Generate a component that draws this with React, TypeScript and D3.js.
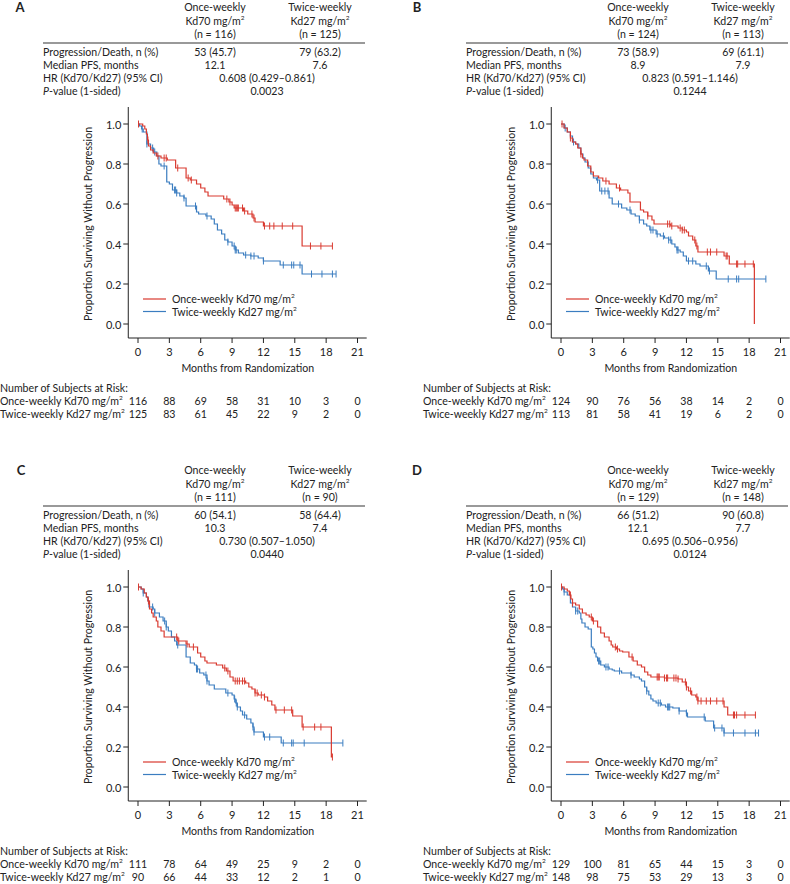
import React from 'react';
import * as d3 from 'd3';

type Step = [number, number];

const TIME_TICKS = [0, 3, 6, 9, 12, 15, 18, 21];
const SURV_TICKS = [0, 0.2, 0.4, 0.6, 0.8, 1.0];
const ARM_LABELS = ['Once-weekly Kd70 mg/m', 'Twice-weekly Kd27 mg/m'];
const ROW_LABELS = ['Progression/Death, n (%)', 'Median PFS, months', 'HR (Kd70/Kd27) (95% CI)', '-value (1-sided)'];

// ---------- Panel A ----------
const A_KD70_STEPS: Step[] = [[0,1],[0.45,0.99],[0.65,0.975],[0.8,0.95],[0.9,0.92],[1.0,0.89],[1.2,0.87],[1.45,0.855],[1.75,0.84],[2.2,0.83],[2.8,0.82],[3.6,0.78],[4.6,0.73],[5.0,0.72],[5.6,0.70],[6.0,0.68],[6.4,0.66],[6.7,0.64],[8.2,0.625],[8.7,0.61],[9.0,0.595],[9.2,0.58],[10.1,0.565],[10.5,0.55],[11.0,0.53],[11.2,0.51],[12.0,0.49],[15.7,0.39]];
const A_KD70_END = 18.6;
const A_KD70_CENSOR = [0.05,0.95,1.9,2.5,2.7,3.8,4.8,5.1,8.5,8.8,9.3,9.4,9.5,9.6,10.0,10.2,10.9,11.1,12.1,12.6,13.0,13.8,14.8,16.5,17.5,18.6];
const A_KD27_STEPS: Step[] = [[0,1],[0.15,0.99],[0.35,0.975],[0.5,0.96],[0.85,0.90],[1.2,0.88],[1.5,0.86],[1.8,0.84],[2.0,0.80],[2.2,0.79],[2.75,0.71],[3.0,0.70],[3.3,0.67],[3.7,0.655],[4.0,0.64],[4.4,0.63],[4.6,0.59],[5.6,0.56],[5.8,0.55],[6.5,0.54],[7.0,0.525],[7.3,0.50],[7.6,0.47],[8.0,0.45],[8.3,0.42],[8.6,0.41],[9.0,0.39],[9.3,0.37],[9.6,0.355],[10.1,0.345],[10.8,0.34],[11.5,0.33],[12.0,0.315],[13.6,0.295],[15.7,0.25]];
const A_KD27_END = 18.95;
const A_KD27_CENSOR = [0.4,0.85,1.4,1.6,2.5,3.5,3.6,3.7,4.4,5.5,6.6,8.6,9.2,9.3,9.4,10.3,10.8,11.1,12.0,13.9,14.7,14.9,15.5,16.6,17.6,18.6,18.95];
const A_N = ['116', '125'];
const A_PROG = ['53 (45.7)', '79 (63.2)'];
const A_MEDIAN = ['12.1', '7.6'];
const A_HR = '0.608 (0.429–0.861)';
const A_P = '0.0023';
const A_RISK_KD70 = [116, 88, 69, 58, 31, 10, 3, 0];
const A_RISK_KD27 = [125, 83, 61, 45, 22, 9, 2, 0];

// ---------- Panel B ----------
const B_KD70_STEPS: Step[] = [[0,1],[0.3,0.98],[0.6,0.96],[0.9,0.93],[1.1,0.91],[1.4,0.90],[1.6,0.88],[1.9,0.85],[2.05,0.83],[2.2,0.82],[2.55,0.79],[2.85,0.76],[3.1,0.74],[3.6,0.73],[4.0,0.715],[4.6,0.70],[5.3,0.68],[5.7,0.67],[6.4,0.655],[6.6,0.61],[7.6,0.57],[7.9,0.56],[8.3,0.54],[8.7,0.52],[8.9,0.50],[10.5,0.49],[11.2,0.48],[11.6,0.47],[12.0,0.46],[12.2,0.44],[12.6,0.42],[12.9,0.39],[13.1,0.36],[15.6,0.34],[16.1,0.30],[18.5,0.0]];
const B_KD70_END = 18.5;
const B_KD70_CENSOR = [0.1,0.9,1.9,4.3,5.6,8.3,10.2,10.4,10.6,11.4,11.6,11.8,12.8,13.0,14.0,14.3,14.9,15.8,15.9,16.8,16.9,17.6,18.4];
const B_KD27_STEPS: Step[] = [[0,1],[0.3,0.98],[0.6,0.96],[0.9,0.94],[1.1,0.91],[1.4,0.90],[1.7,0.88],[1.9,0.85],[2.1,0.83],[2.3,0.81],[2.6,0.78],[2.85,0.75],[3.1,0.73],[3.4,0.72],[3.7,0.665],[4.6,0.63],[4.9,0.60],[5.8,0.58],[6.3,0.57],[6.7,0.55],[7.1,0.54],[7.5,0.52],[7.9,0.50],[8.2,0.49],[8.5,0.47],[9.1,0.45],[9.5,0.44],[9.9,0.43],[10.3,0.42],[10.6,0.40],[10.9,0.385],[11.1,0.37],[11.4,0.36],[11.7,0.34],[12.0,0.315],[12.9,0.30],[13.3,0.29],[14.1,0.265],[14.85,0.225]];
const B_KD27_END = 19.6;
const B_KD27_CENSOR = [0.4,1.2,3.5,3.9,4.2,4.5,5.5,6.6,7.5,8.6,8.8,9.2,9.8,10.3,10.5,11.1,11.2,12.2,12.6,13.9,14.2,16.0,16.8,17.0,19.6];
const B_N = ['124', '113'];
const B_PROG = ['73 (58.9)', '69 (61.1)'];
const B_MEDIAN = ['8.9', '7.9'];
const B_HR = '0.823 (0.591–1.146)';
const B_P = '0.1244';
const B_RISK_KD70 = [124, 90, 76, 56, 38, 14, 2, 0];
const B_RISK_KD27 = [113, 81, 58, 41, 19, 6, 2, 0];

// ---------- Panel C ----------
const C_KD70_STEPS: Step[] = [[0,1],[0.3,0.99],[0.6,0.97],[0.8,0.95],[0.95,0.93],[1.1,0.89],[1.3,0.87],[1.45,0.85],[1.75,0.83],[1.9,0.80],[2.2,0.78],[2.5,0.75],[3.8,0.73],[4.6,0.715],[4.9,0.70],[5.7,0.67],[6.0,0.65],[6.4,0.63],[6.6,0.62],[7.5,0.61],[8.1,0.595],[8.45,0.58],[8.8,0.55],[9.1,0.53],[10.3,0.52],[10.6,0.50],[10.9,0.49],[11.2,0.47],[11.5,0.46],[12.1,0.45],[12.4,0.43],[12.8,0.41],[13.1,0.385],[14.8,0.355],[15.7,0.30],[18.5,0.15]];
const C_KD70_END = 18.6;
const C_KD70_CENSOR = [0.05,1.0,3.7,3.9,4.7,5.3,8.3,8.6,9.3,9.5,9.7,10.0,10.2,11.2,11.4,11.8,12.1,13.2,14.0,14.7,15.8,16.9,17.5,18.6];
const C_KD27_STEPS: Step[] = [[0,1],[0.3,0.99],[0.5,0.97],[0.8,0.95],[0.95,0.93],[1.05,0.90],[1.45,0.89],[1.6,0.87],[2.05,0.85],[2.4,0.83],[2.7,0.80],[2.9,0.78],[3.2,0.75],[3.5,0.73],[3.7,0.71],[4.6,0.65],[5.0,0.62],[5.4,0.61],[5.6,0.59],[5.9,0.57],[6.3,0.56],[6.6,0.53],[6.8,0.51],[7.3,0.49],[8.4,0.47],[9.0,0.46],[9.2,0.44],[9.35,0.42],[9.5,0.40],[9.8,0.38],[10.0,0.36],[10.4,0.34],[10.8,0.32],[11.0,0.30],[11.1,0.275],[12.0,0.25],[13.7,0.22]];
const C_KD27_END = 19.6;
const C_KD27_CENSOR = [0.5,1.4,1.6,2.55,2.7,3.8,5.6,5.7,6.5,6.6,8.6,9.25,9.4,9.5,10.2,11.0,11.1,12.1,12.6,13.9,14.7,14.85,15.9,19.6];
const C_N = ['111', '90'];
const C_PROG = ['60 (54.1)', '58 (64.4)'];
const C_MEDIAN = ['10.3', '7.4'];
const C_HR = '0.730 (0.507–1.050)';
const C_P = '0.0440';
const C_RISK_KD70 = [111, 78, 64, 49, 25, 9, 2, 0];
const C_RISK_KD27 = [90, 66, 44, 33, 12, 2, 1, 0];

// ---------- Panel D ----------
const D_KD70_STEPS: Step[] = [[0,1],[0.3,0.99],[0.6,0.98],[0.8,0.96],[0.95,0.94],[1.1,0.92],[1.4,0.91],[1.75,0.89],[2.05,0.87],[2.4,0.86],[2.7,0.85],[3.0,0.83],[3.5,0.80],[3.8,0.77],[4.15,0.75],[4.6,0.73],[4.8,0.71],[4.95,0.70],[5.3,0.69],[5.6,0.68],[5.9,0.675],[6.5,0.65],[6.9,0.63],[7.3,0.61],[7.7,0.60],[8.0,0.575],[8.3,0.56],[8.6,0.55],[9.9,0.545],[11.2,0.54],[11.6,0.525],[12.0,0.50],[12.2,0.48],[12.5,0.46],[12.9,0.45],[13.1,0.43],[15.6,0.40],[15.95,0.36]];
const D_KD70_END = 18.65;
const D_KD70_CENSOR = [0.05,0.9,1.1,2.9,3.1,5.2,5.4,6.8,9.2,9.3,9.4,9.9,10.1,10.2,10.8,11.0,11.2,11.9,12.0,12.4,13.0,13.1,13.4,13.9,14.3,14.9,15.5,16.5,16.6,16.8,17.6,18.6];
const D_KD27_STEPS: Step[] = [[0,1],[0.15,0.99],[0.3,0.975],[0.6,0.96],[0.9,0.92],[1.1,0.90],[1.4,0.88],[1.75,0.87],[1.9,0.84],[2.0,0.82],[2.3,0.80],[2.6,0.79],[2.9,0.70],[3.05,0.69],[3.2,0.67],[3.35,0.65],[3.5,0.63],[3.8,0.61],[4.15,0.60],[4.6,0.59],[4.9,0.585],[5.1,0.58],[5.8,0.57],[6.7,0.56],[7.0,0.55],[7.5,0.54],[7.7,0.53],[8.0,0.50],[8.2,0.48],[8.4,0.46],[8.6,0.44],[8.8,0.43],[9.1,0.42],[9.6,0.41],[10.0,0.40],[10.7,0.395],[11.3,0.38],[12.0,0.37],[12.1,0.35],[13.8,0.33],[14.6,0.295],[15.6,0.27]];
const D_KD27_END = 18.9;
const D_KD27_CENSOR = [0.3,1.4,1.6,3.6,3.7,4.3,4.5,5.6,6.7,8.2,9.3,9.5,10.2,10.3,10.4,11.3,12.0,13.7,14.7,15.4,15.6,16.5,17.6,18.6,18.9];
const D_N = ['129', '148'];
const D_PROG = ['66 (51.2)', '90 (60.8)'];
const D_MEDIAN = ['12.1', '7.7'];
const D_HR = '0.695 (0.506–0.956)';
const D_P = '0.0124';
const D_RISK_KD70 = [129, 100, 81, 65, 44, 15, 3, 0];
const D_RISK_KD27 = [148, 98, 75, 53, 29, 13, 3, 0];

const RED = '#d93a30';
const BLUE = '#3b7dc0';
const FONT = "Lato, 'Open Sans', sans-serif";
const FS = 10.6;
const TICK_FS = 11;

const PANELS = [
  { letter: 'A', ox: 0, oy: 0, lx: 20, n: A_N, prog: A_PROG, med: A_MEDIAN, hr: A_HR, p: A_P, r70: A_RISK_KD70, r27: A_RISK_KD27,
    s70: A_KD70_STEPS, e70: A_KD70_END, c70: A_KD70_CENSOR, s27: A_KD27_STEPS, e27: A_KD27_END, c27: A_KD27_CENSOR },
  { letter: 'B', ox: 423, oy: 0, lx: -6, n: B_N, prog: B_PROG, med: B_MEDIAN, hr: B_HR, p: B_P, r70: B_RISK_KD70, r27: B_RISK_KD27,
    s70: B_KD70_STEPS, e70: B_KD70_END, c70: B_KD70_CENSOR, s27: B_KD27_STEPS, e27: B_KD27_END, c27: B_KD27_CENSOR },
  { letter: 'C', ox: 0, oy: 463, lx: 21, n: C_N, prog: C_PROG, med: C_MEDIAN, hr: C_HR, p: C_P, r70: C_RISK_KD70, r27: C_RISK_KD27,
    s70: C_KD70_STEPS, e70: C_KD70_END, c70: C_KD70_CENSOR, s27: C_KD27_STEPS, e27: C_KD27_END, c27: C_KD27_CENSOR },
  { letter: 'D', ox: 423, oy: 463, lx: -6, n: D_N, prog: D_PROG, med: D_MEDIAN, hr: D_HR, p: D_P, r70: D_RISK_KD70, r27: D_RISK_KD27,
    s70: D_KD70_STEPS, e70: D_KD70_END, c70: D_KD70_CENSOR, s27: D_KD27_STEPS, e27: D_KD27_END, c27: D_KD27_CENSOR },
];

const x = d3.scaleLinear().domain([0, 21]).range([138, 357.5]);
const y = d3.scaleLinear().domain([0, 1]).range([324, 124]);

function survAt(steps: Step[], t: number) {
  let s = 1;
  for (const [tt, ss] of steps) if (tt <= t + 1e-9) s = ss;
  return s;
}

const line = d3.line<Step>().x((d) => x(d[0])).y((d) => y(d[1])).curve(d3.curveStepAfter);

function Sup({ base }: { base: string }) {
  return (
    <>
      {base}
      <tspan fontSize={6.5} dy={-4}>2</tspan>
    </>
  );
}

function Curve({ steps, end, censor, color }: { steps: Step[]; end: number; censor: number[]; color: string }) {
  const pts: Step[] = [...steps, [end, steps[steps.length - 1][1]]];
  return (
    <g>
      <path d={line(pts) || ''} fill="none" stroke={color} strokeWidth={1.2} />
      {censor.map((t, i) => {
        const cx = x(t);
        const cy = y(survAt(steps, t));
        return <line key={i} x1={cx} x2={cx} y1={cy - 3.5} y2={cy + 3.5} stroke={color} strokeWidth={1} />;
      })}
    </g>
  );
}

function Panel({ p }: { p: (typeof PANELS)[number] }) {
  const c1 = 215, c2 = 320, cm = 267;
  const axisLeft = x(-0.93);
  const axisRight = x(21.88);
  const axisBottom = y(-0.07);
  const axisTop = y(1.085);
  return (
    <g transform={`translate(${p.ox},${p.oy})`} fontFamily={FONT} fontSize={FS} fill="#222">
      <text x={p.lx} y={7} fontWeight="bold" fontSize={13} textAnchor="middle" dominantBaseline="central">{p.letter}</text>
      {/* header */}
      <text x={c1} y={7} textAnchor="middle" dominantBaseline="central">Once-weekly</text>
      <text x={c1} y={20.5} textAnchor="middle" dominantBaseline="central"><Sup base="Kd70 mg/m" /></text>
      <text x={c1} y={34} textAnchor="middle" dominantBaseline="central">(n = {p.n[0]})</text>
      <text x={c2} y={7} textAnchor="middle" dominantBaseline="central">Twice-weekly</text>
      <text x={c2} y={20.5} textAnchor="middle" dominantBaseline="central"><Sup base="Kd27 mg/m" /></text>
      <text x={c2} y={34} textAnchor="middle" dominantBaseline="central">(n = {p.n[1]})</text>
      <line x1={43} x2={365} y1={43} y2={43} stroke="#777" strokeWidth={1.4} />
      <text x={43} y={52} dominantBaseline="central">{ROW_LABELS[0]}</text>
      <text x={43} y={65} dominantBaseline="central">{ROW_LABELS[1]}</text>
      <text x={43} y={78} dominantBaseline="central">{ROW_LABELS[2]}</text>
      <text x={43} y={91} dominantBaseline="central"><tspan fontStyle="italic">P</tspan>{ROW_LABELS[3]}</text>
      <text x={c1} y={52} textAnchor="middle" dominantBaseline="central">{p.prog[0]}</text>
      <text x={c2} y={52} textAnchor="middle" dominantBaseline="central">{p.prog[1]}</text>
      <text x={c1} y={65} textAnchor="middle" dominantBaseline="central">{p.med[0]}</text>
      <text x={c2} y={65} textAnchor="middle" dominantBaseline="central">{p.med[1]}</text>
      <text x={cm} y={78} textAnchor="middle" dominantBaseline="central">{p.hr}</text>
      <text x={cm} y={91} textAnchor="middle" dominantBaseline="central">{p.p}</text>

      {/* axes */}
      <line x1={axisLeft} x2={axisLeft} y1={axisTop} y2={axisBottom} stroke="#222" strokeWidth={1} />
      <line x1={axisLeft} x2={axisRight} y1={axisBottom} y2={axisBottom} stroke="#222" strokeWidth={1} />
      {SURV_TICKS.map((v) => (
        <g key={v}>
          <line x1={axisLeft - 5} x2={axisLeft} y1={y(v)} y2={y(v)} stroke="#222" />
          <text x={axisLeft - 7} y={y(v)} fontSize={TICK_FS} textAnchor="end" dominantBaseline="central">{v.toFixed(1)}</text>
        </g>
      ))}
      {TIME_TICKS.map((t) => (
        <g key={t}>
          <line x1={x(t)} x2={x(t)} y1={axisBottom} y2={axisBottom + 5} stroke="#222" />
          <text x={x(t)} y={axisBottom + 13} fontSize={TICK_FS} textAnchor="middle" dominantBaseline="central">{t}</text>
        </g>
      ))}
      <text x={x(10.5)} y={368} textAnchor="middle" dominantBaseline="central">Months from Randomization</text>
      <text transform={`translate(88,${y(0.5)}) rotate(-90)`} textAnchor="middle" dominantBaseline="central">Proportion Surviving Without Progression</text>

      {/* curves */}
      <Curve steps={p.s27} end={p.e27} censor={p.c27} color={BLUE} />
      <Curve steps={p.s70} end={p.e70} censor={p.c70} color={RED} />

      {/* legend */}
      <line x1={143} x2={166} y1={y(0.125)} y2={y(0.125)} stroke={RED} strokeWidth={1.2} />
      <text x={172} y={y(0.125)} dominantBaseline="central"><Sup base={ARM_LABELS[0]} /></text>
      <line x1={143} x2={166} y1={y(0.0625)} y2={y(0.0625)} stroke={BLUE} strokeWidth={1.2} />
      <text x={172} y={y(0.0625)} dominantBaseline="central"><Sup base={ARM_LABELS[1]} /></text>

      {/* risk table */}
      <text x={0} y={388} dominantBaseline="central">Number of Subjects at Risk:</text>
      <text x={0} y={401} dominantBaseline="central"><Sup base={ARM_LABELS[0]} /></text>
      <text x={0} y={414.3} dominantBaseline="central"><Sup base={ARM_LABELS[1]} /></text>
      {TIME_TICKS.map((t, i) => (
        <g key={t}>
          <text x={x(t)} y={401} textAnchor="middle" dominantBaseline="central">{p.r70[i]}</text>
          <text x={x(t)} y={414.3} textAnchor="middle" dominantBaseline="central">{p.r27[i]}</text>
        </g>
      ))}
    </g>
  );
}

export default function App() {
  return (
    <svg width={790} height={884} style={{ position: 'absolute', left: 0, top: 0, background: '#fff' }}>
      <rect width={790} height={884} fill="#fff" />
      {PANELS.map((p) => <Panel key={p.letter} p={p} />)}
    </svg>
  );
}
